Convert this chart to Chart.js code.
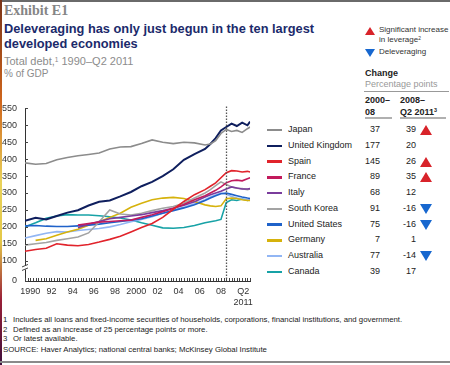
<!DOCTYPE html>
<html>
<head>
<meta charset="utf-8">
<script src="https://cdn.jsdelivr.net/npm/chart.js@4.4.0/dist/chart.umd.min.js"></script>
<style>
  body { margin:0; width:450px; height:365px; position:relative; overflow:hidden; background:#fff;
         font-family:"Liberation Sans", Arial, sans-serif; }
  .abs { position:absolute; white-space:nowrap; }
  .sup { position:relative; top:-0.5em; font-size:0.6em; line-height:0; }
  .tri-up { position:absolute; width:0; height:0; border-left:5px solid transparent; border-right:5px solid transparent; border-bottom:8px solid #d8232a; }
  .tri-dn { position:absolute; width:0; height:0; border-left:5px solid transparent; border-right:5px solid transparent; border-top:8px solid #1767cf; }
  .foot { position:absolute; left:3px; font-size:7.8px; color:#222; white-space:nowrap; }
  .foot span { display:inline-block; width:10px; }
</style>
</head>
<body>
<div class="abs" style="left:0;top:0;width:450px;height:2px;background:#6a6a6a"></div>
<div class="abs" style="left:0;top:0;width:2px;height:365px;background:linear-gradient(#7a3418 0%,#d0661c 28%,#e9d25a 50%,#e4c848 66%,#9a2038 82%,#3e0f3c 100%)"></div>
<div class="abs" style="left:0;top:361px;width:450px;height:2px;background:#8a8a8a"></div>

<div class="abs" style="left:4px;top:3px;font:bold 14px 'Liberation Serif',serif;color:#858585">Exhibit E1</div>
<div class="abs" style="left:4px;top:22px;font:bold 12.8px 'Liberation Sans',Arial,sans-serif;color:#1b2a6b;line-height:14.5px">Deleveraging has only just begun in the ten largest<br>developed economies</div>
<div class="abs" style="left:4px;top:55px;font-size:11px;color:#8c8c8c">Total debt,<span class="sup">1</span> 1990–Q2 2011</div>
<div class="abs" style="left:4px;top:68px;font-size:10px;color:#8c8c8c">% of GDP</div>

<div class="tri-up" style="left:365px;top:27px"></div>
<div class="abs" style="left:379px;top:25px;font-size:8px;line-height:10px;color:#333">Significant increase<br>in leverage<span class="sup">2</span></div>
<div class="tri-dn" style="left:365px;top:49px"></div>
<div class="abs" style="left:379px;top:47px;font-size:8px;color:#333">Deleveraging</div>
<div class="abs" style="left:365px;top:68px;font:bold 9px 'Liberation Sans',Arial,sans-serif;color:#222">Change</div>
<div class="abs" style="left:365px;top:79px;font-size:9px;color:#999">Percentage points</div>
<div class="abs" style="left:364px;top:91px;width:85px;height:1px;background:#999"></div>
<div class="abs" style="left:365px;top:94px;font:bold 9px 'Liberation Sans',Arial,sans-serif;line-height:12px;color:#222">2000–<br>08</div>
<div class="abs" style="left:400px;top:94px;font:bold 9px 'Liberation Sans',Arial,sans-serif;line-height:12px;color:#222">2008–<br>Q2 2011<span class="sup">3</span></div>
<div class="abs" style="left:365px;top:117px;width:27px;height:2px;background:#b0b0b0"></div>
<div class="abs" style="left:400px;top:117px;width:46px;height:2px;background:#b0b0b0"></div>

<div id="table"></div>

<div class="abs" style="left:0;top:95px;width:258px;height:216px">
  <canvas id="debt_cntxt" width="258" height="216"></canvas>
</div>

<div class="foot" style="top:315px"><span>1</span>Includes all loans and fixed-income securities of households, corporations, financial institutions, and government.</div>
<div class="foot" style="top:324.5px"><span>2</span>Defined as an increase of 25 percentage points or more.</div>
<div class="foot" style="top:334px"><span>3</span>Or latest available.</div>
<div class="foot" style="top:345px">SOURCE: Haver Analytics; national central banks; McKinsey Global Institute</div>

<script>
// x positions of the readings (years, half-year steps near the end)
var years = [1990,1991,1992,1993,1994,1995,1996,1997,1998,1999,2000,2001,2002,2003,2004,2005,2006,2007,2007.5,2008,2008.5,2009,2009.5,2010,2010.5,2011,2011.25];

var japan         = [389,385,387,398,405,410,414,418,430,436,437,446,457,450,446,450,448,442,445,455,476,488,482,485,479,490,495];
var unitedKingdom = [218,227,222,232,242,249,263,274,278,290,303,320,333,350,370,398,415,430,445,462,485,495,505,498,508,500,511];
var spain         = [128,133,137,150,146,144,148,155,163,172,185,198,210,228,252,275,295,310,320,330,345,360,366,365,362,364,362];
var france        = [null,null,null,null,null,205,210,214,216,218,220,228,236,245,255,266,280,292,300,308,318,330,336,338,336,342,345];
var italy         = [null,null,null,null,null,197,208,216,224,228,232,236,242,248,255,264,274,288,295,300,305,312,318,315,312,312,313];
var southKorea    = [146,150,154,160,165,170,182,215,250,238,235,240,248,255,260,270,285,300,310,322,333,325,318,314,313,310,312];
var unitedStates  = [203,204,202,201,201,203,205,208,212,216,220,224,232,240,248,256,265,278,285,292,298,300,296,292,288,285,284];
var germany       = [null,160,165,175,185,193,205,215,228,240,258,270,280,285,287,284,275,265,262,260,262,283,285,284,280,278,278];
var australia     = [167,174,181,186,185,189,192,195,200,207,215,222,230,240,250,258,268,280,288,294,300,296,290,285,282,280,280];
var canada        = [200,212,225,232,236,235,235,233,230,226,220,212,205,197,196,198,204,212,215,218,222,272,280,278,282,278,280];

var countries = ["Japan","United Kingdom","Spain","France","Italy","South Korea","United States","Germany","Australia","Canada"];
var seriesValues = [japan,unitedKingdom,spain,france,italy,southKorea,unitedStates,germany,australia,canada];
var lineColors = ['#8c8c8c','#0f1f5e','#e1232b','#c21a5c','#7a3c9c','#a3a3a3','#1f62c9','#d6b20c','#92b6f4','#17a2a6'];
var change2000to08 = [37,177,145,89,68,91,75,7,77,39];
var change2008to11 = [39,20,26,35,12,-16,-16,1,-14,17];
var leverageSignal = ['up','','up','up','','down','down','','down',''];

var yTickValues = [40,100,150,200,250,300,350,400,450,500,550];
var yTickLabels = ['0','100','150','200','250','300','350','400','450','500','550'];
var xTickValues = [1990.5,1992.5,1994.5,1996.5,1998.5,2000.5,2002.5,2004.5,2006.5,2008.5,2010.6];
var xTickLabels = ['1990','92','94','96','98','2000','02','04','06','08',['Q2','2011']];
var dividerYear = 2009;

// right-hand legend / change table
var table = document.getElementById('table');
var html = '';
for (var i = 0; i < countries.length; i++) {
  var cy = 130 + i * 15.75;
  html += '<div class="abs" style="left:267px;top:' + (cy - 1.2) + 'px;width:15px;height:2.5px;background:' + lineColors[i] + '"></div>';
  html += '<div class="abs" style="left:288px;top:' + (cy - 6) + 'px;font-size:9px;color:#222">' + countries[i] + '</div>';
  html += '<div class="abs" style="left:350px;width:30px;text-align:right;top:' + (cy - 6) + 'px;font-size:9px;color:#222">' + change2000to08[i] + '</div>';
  html += '<div class="abs" style="left:386px;width:30px;text-align:right;top:' + (cy - 6) + 'px;font-size:9px;color:#222">' + change2008to11[i] + '</div>';
  if (leverageSignal[i] == 'up') html += '<div class="tri-up" style="left:420px;top:' + (cy - 5) + 'px;border-left-width:6px;border-right-width:6px;border-bottom-width:10px"></div>';
  if (leverageSignal[i] == 'down') html += '<div class="tri-dn" style="left:420px;top:' + (cy - 5) + 'px;border-left-width:6px;border-right-width:6px;border-top-width:10px"></div>';
}
table.innerHTML = html;

var axisExtras = {
  id: 'axisExtras',
  afterDraw: function(chart) {
    var ctx = chart.ctx, xs = chart.scales.x, ys = chart.scales.y, area = chart.chartArea;
    ctx.save();
    // dotted divider
    ctx.strokeStyle = '#555';
    ctx.lineWidth = 1.3;
    ctx.setLineDash([1.5, 1.5]);
    var dx = Math.round(xs.getPixelForValue(dividerYear)) + 0.5;
    ctx.beginPath(); ctx.moveTo(dx, area.top - 2); ctx.lineTo(dx, area.bottom); ctx.stroke();
    ctx.setLineDash([]);
    // quarterly tick marks on x axis
    ctx.strokeStyle = '#444';
    ctx.lineWidth = 1;
    for (var q = xs.min; q <= xs.max + 0.001; q += 0.25) {
      var px = Math.round(xs.getPixelForValue(q)) + 0.5;
      ctx.beginPath(); ctx.moveTo(px, area.bottom); ctx.lineTo(px, area.bottom - 3); ctx.stroke();
    }
    // y tick marks inside
    yTickValues.forEach(function(v) {
      var py = Math.round(ys.getPixelForValue(v)) + 0.5;
      ctx.beginPath(); ctx.moveTo(area.left, py); ctx.lineTo(area.left + 3, py); ctx.stroke();
    });
    // axis break
    var by = ys.getPixelForValue(80);
    ctx.fillStyle = '#fff';
    ctx.fillRect(area.left - 3, by - 2, 6, 4);
    ctx.beginPath();
    ctx.moveTo(area.left - 3, by - 0.5); ctx.lineTo(area.left + 3, by - 3);
    ctx.moveTo(area.left - 3, by + 3); ctx.lineTo(area.left + 3, by + 0.5);
    ctx.stroke();
    ctx.restore();
  }
};

var current_cntxt = document.getElementById('debt_cntxt').getContext('2d');
var debt_chart = new Chart(current_cntxt, {
  type: 'line',
  data: {
    datasets: countries.map(function(name, i) {
      return {
        label: name,
        data: years.map(function(yr, j) { return { x: yr, y: seriesValues[i][j] }; }),
        borderColor: lineColors[i],
        borderWidth: i == 1 ? 2 : 1.6,
        pointRadius: 0,
        fill: false,
        tension: 0
      };
    })
  },
  options: {
    responsive: false,
    animation: false,
    devicePixelRatio: 1,
    layout: { padding: { top: 10, right: 4, left: 0, bottom: 0 } },
    plugins: { legend: { display: false }, tooltip: { enabled: false } },
    scales: {
      x: {
        type: 'linear', min: 1990, max: 2011.25,
        afterBuildTicks: function(s) { s.ticks = xTickValues.map(function(v) { return { value: v }; }); },
        afterFit: function(s) { s.height = 30; },
        grid: { display: false, drawTicks: false },
        border: { display: true, color: '#333', width: 1 },
        ticks: {
          autoSkip: false, maxRotation: 0, padding: 5, color: '#333',
          font: { family: 'Liberation Sans', size: 9 },
          callback: function(v, i) { return xTickLabels[i]; }
        }
      },
      y: {
        type: 'linear', min: 40, max: 550,
        afterBuildTicks: function(s) { s.ticks = yTickValues.map(function(v) { return { value: v }; }); },
        afterFit: function(s) { s.width = 25; },
        grid: { display: false, drawTicks: false },
        border: { display: true, color: '#333', width: 1 },
        ticks: {
          padding: 8, color: '#333',
          font: { family: 'Liberation Sans', size: 9 },
          callback: function(v, i) { return yTickLabels[i]; }
        }
      }
    }
  },
  plugins: [axisExtras]
});
</script>
</body>
</html>
